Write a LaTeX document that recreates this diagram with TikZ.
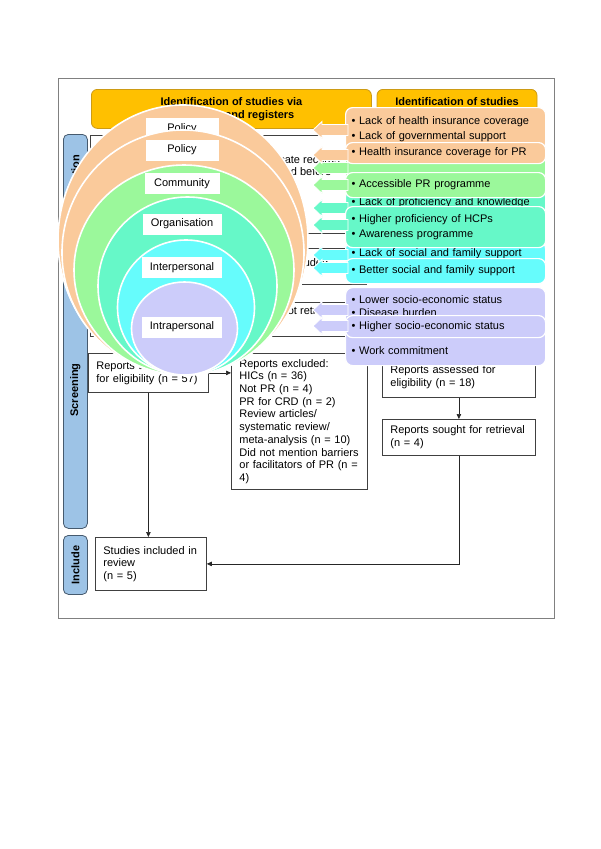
\documentclass[tikz,border=0pt]{standalone}
\usepackage{fontspec}
\setmainfont{Liberation Sans}
\usetikzlibrary{arrows.meta}
\definecolor{orangeF}{RGB}{250,202,155}
\definecolor{greenF}{RGB}{155,248,155}
\definecolor{tealF}{RGB}{102,248,200}
\definecolor{cyanF}{RGB}{102,252,252}
\definecolor{purpF}{RGB}{204,204,250}
\definecolor{hdrY}{RGB}{255,192,0}
\definecolor{hdrD}{RGB}{205,155,20}
\definecolor{sideB}{RGB}{157,195,230}
\definecolor{sideD}{RGB}{70,90,110}
\newcommand\bitem[1]{\strut\textbullet\ #1}
\newcommand\blkarrow[2]{\filldraw[fill=#2, draw=white, line width=0.9pt] (313,#1) -- ++(9,-8.5) -- ++(0,3) -- ++(26,0) -- ++(0,11) -- ++(-26,0) -- ++(0,3) -- cycle;}
\begin{document}
\begin{tikzpicture}[x=1pt,y=-1pt,
  every node/.style={font=\fontsize{11}{12.7}\selectfont, inner sep=0pt},
  fbox/.style={draw=black!75, line width=0.8pt, fill=white, rectangle, anchor=north west, inner xsep=8pt, align=left},
  arr/.style={draw=black!85, line width=0.6pt, -{Triangle[length=5pt,width=4.5pt]}},
  hdr/.style={fill=hdrY, draw=hdrD, line width=0.8pt, rounded corners=6pt, anchor=north west, font=\fontsize{11}{13}\selectfont\bfseries, align=center},
  side/.style={fill=sideB, draw=sideD, line width=0.8pt, rounded corners=5pt, anchor=north west, minimum width=24pt},
  sidet/.style={rotate=90, font=\fontsize{11}{13}\selectfont\bfseries},
  lvl/.style={fill=white, minimum height=21pt},
  ring/.style={draw=white, line width=1.6pt},
  pbox/.style={rectangle, rounded corners=7pt, draw=white, line width=1.2pt, anchor=north west, inner xsep=6pt, inner ysep=0pt, text width=188pt, align=left},
]
\useasboundingbox (0,0) rectangle (600,849);
\fill[white] (0,0) rectangle (600,849);
\node[draw=black!50, line width=0.8pt, anchor=north west, minimum width=496pt, minimum height=540pt] (frame) at (58,78) {};

% headers
\node[hdr, minimum width=280pt, minimum height=39pt] (h1) at (91,89) {Identification of studies via\\databases and registers};
\node[hdr, minimum width=160pt, minimum height=39pt, anchor=north] (h2) at (457,89) {};
\node[font=\fontsize{11}{13}\selectfont\bfseries] (h2t) at (457,102) {Identification of studies};

% side bars
\node[side, minimum height=109pt] (s1) at (63,134) {};
\node[sidet] (s1t) at (s1.center) {Identification};
\node[side, minimum height=277pt] (s2) at (63,251) {};
\node[sidet] (s2t) at (s2.center) {Screening};
\node[side, minimum height=59pt] (s3) at (63,535) {};
\node[sidet] (s3t) at (s3.center) {Include};

% flowchart
\node[fbox, minimum width=118pt, minimum height=98pt] (l1) at (90,135) {};
\node[fbox, minimum width=118pt, minimum height=36pt] (l2) at (90,248) {};
\node[fbox, minimum width=118pt, minimum height=34pt] (l3) at (90,302) {};
\node[fbox, minimum height=39pt, text width=104pt] (a57) at (88,353) {Reports assessed\\for eligibility (n = 57)};
\node[fbox, minimum width=134pt, minimum height=98pt] (m1) at (232,135) {};
\node[fbox, minimum width=134pt, minimum height=36pt] (m2) at (232,248) {};
\node[fbox, minimum width=134pt, minimum height=34pt] (m3) at (232,302) {};
\node[anchor=west, align=left] (m1t) at (254,165.5) {Duplicate records\\removed before};
\node[anchor=west] (m2t) at (240,263) {Records excluded};
\node[anchor=west] (m3t) at (240,312) {Reports not retrieved};
\node[fbox, minimum height=136pt, text width=120pt] (excl) at (231,353) {Reports excluded:\\HICs (n = 36)\\Not PR (n = 4)\\PR for CRD (n = 2)\\Review articles/\\systematic review/\\meta-analysis (n = 10)\\Did not mention barriers\\or facilitators of PR (n =\\4)};
\node[fbox, minimum height=53pt, text width=95pt] (incl) at (95,537) {Studies included in\\review\\(n = 5)};
\node[fbox, minimum height=41pt, text width=137pt] (a18) at (382,356) {Reports assessed for\\eligibility (n = 18)};
\node[fbox, minimum height=36pt, text width=137pt] (s4) at (382,419) {Reports sought for retrieval\\(n = 4)};

\draw[arr] (l1) -- (l2);
\draw[arr] (l2) -- (l3);
\draw[arr] (l3.south) -- (l3.south |- a57.north);
\draw[arr] (l1) -- (m1);
\draw[arr] (l2) -- (m2);
\draw[arr] (l3) -- (m3);
\draw[arr] (a57.east) -- (a57.east -| excl.west);
\draw[arr] (a57.south) -- (a57.south |- incl.north);
\draw[arr] (a18) -- (s4);
\draw[arr] (s4.south) |- (incl.east);

% socio-ecological model
\filldraw[fill=orangeF, ring] (183,240) ellipse [x radius=125pt, y radius=135pt];
\node[lvl, minimum width=73pt] (lp1) at (182,128.5) {Policy};
\filldraw[fill=orangeF, ring] (183,252.5) ellipse [x radius=121pt, y radius=122.5pt];
\node[lvl, minimum width=73pt] (lp2) at (182,150) {Policy};
\filldraw[fill=greenF, ring] (184,270) ellipse [x radius=110pt, y radius=105pt];
\node[lvl, minimum width=75pt] (lc) at (182,183.5) {Community};
\filldraw[fill=tealF, ring] (187.5,286) ellipse [x radius=89.5pt, y radius=89pt];
\node[lvl, minimum width=79pt] (lo) at (182,224) {Organisation};
\filldraw[fill=cyanF, ring] (186,307.5) ellipse [x radius=68.5pt, y radius=67.5pt];
\node[lvl, minimum width=80pt] (li) at (182,267.5) {Interpersonal};
\filldraw[fill=purpF, ring] (184.5,328.5) ellipse [x radius=53pt, y radius=46.5pt];
\node[lvl, minimum width=80pt] (lr) at (182,327) {Intrapersonal};

% barriers / facilitators panel
\node[pbox, fill=purpF, minimum height=78pt, font=\fontsize{11}{12.6}\selectfont] (pb) at (345,287) {\bitem{Lower socio-economic status}\\\bitem{Disease burden}\\\strut\\\strut\\\bitem{Work commitment}};
\blkarrow{310}{purpF}
\node[pbox, fill=purpF, minimum height=22pt, font=\fontsize{11}{14}\selectfont] (pf) at (345,315) {\bitem{Higher socio-economic status}};
\blkarrow{326}{purpF}
\node[pbox, fill=cyanF, minimum height=25pt, font=\fontsize{11}{14}\selectfont] (cb) at (345,241) {\bitem{Lack of social and family support}};
\blkarrow{255}{cyanF}
\node[pbox, fill=cyanF, minimum height=25pt, font=\fontsize{11}{14}\selectfont] (cf) at (345,258) {\bitem{Better social and family support}};
\blkarrow{268}{cyanF}
\node[pbox, fill=tealF, minimum height=26pt, font=\fontsize{11}{14}\selectfont] (tb) at (345,189) {\bitem{Lack of proficiency and knowledge}};
\blkarrow{208}{tealF}
\node[pbox, fill=tealF, minimum height=41pt, font=\fontsize{11}{15}\selectfont] (tf) at (345,206) {\bitem{Higher proficiency of HCPs}\\\bitem{Awareness programme}};
\blkarrow{225}{tealF}
\node[pbox, fill=greenF, minimum height=29pt] (gb) at (345,151) {};
\blkarrow{168}{greenF}
\node[pbox, fill=greenF, minimum height=25pt, font=\fontsize{11}{14}\selectfont] (gf) at (345,172) {\bitem{Accessible PR programme}};
\blkarrow{185}{greenF}
\node[pbox, fill=orangeF, minimum height=43pt, font=\fontsize{11}{14.3}\selectfont] (ob) at (345,107) {\bitem{Lack of health insurance coverage}\\\bitem{Lack of governmental support}};
\blkarrow{130}{orangeF}
\node[pbox, fill=orangeF, minimum height=21pt, font=\fontsize{11}{14}\selectfont] (of) at (345,142) {\bitem{Health insurance coverage for PR}};
\blkarrow{155}{orangeF}
\end{tikzpicture}
\end{document}
